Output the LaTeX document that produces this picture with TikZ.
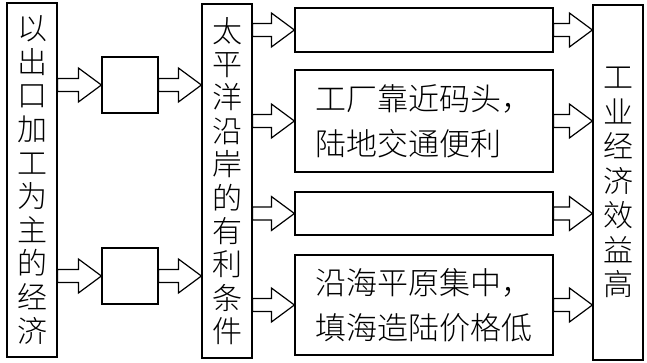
\documentclass[tikz,border=0pt]{standalone}
\usepackage{fontspec}
\newfontfamily\cjk{Noto Sans CJK SC}[UprightFont=* Light]
\usetikzlibrary{calc}
\tikzset{
  box/.style={draw, line width=1.2pt, inner sep=0pt},
  vtext/.style={align=center},
  blockarrow/.style={draw, line width=1.2pt, line join=miter,
    to path={let \p1=(\tikztostart), \p2=(\tikztotarget) in
      (\x1,\y1+6.5pt) -- (\x2-23pt,\y1+6.5pt) -- (\x2-23pt,\y1+17pt) -- (\x2,\y1)
      -- (\x2-23pt,\y1-17pt) -- (\x2-23pt,\y1-6.5pt) -- (\x1,\y1-6.5pt) -- cycle}}
}
\begin{document}
\begin{tikzpicture}[x=1pt,y=-1pt]
\useasboundingbox (0,0) rectangle (647,363);
\node[box, vtext, minimum width=50pt, minimum height=354pt, font=\cjk\fontsize{30}{33.6}\selectfont] (L) at (32,180) {以\\出\\口\\加\\工\\为\\主\\的\\经\\济};
\node[box, minimum width=56pt, minimum height=56pt] (S1) at (130,85) {};
\node[box, minimum width=56pt, minimum height=56pt] (S2) at (130,276) {};
\node[box, vtext, minimum width=50pt, minimum height=354pt, font=\cjk\fontsize{30}{33.4}\selectfont] (M) at (227,181) {太\\平\\洋\\沿\\岸\\的\\有\\利\\条\\件};
\node[box, minimum width=258pt, minimum height=44pt] (A) at (424,30) {};
\node[box, align=left, minimum width=258pt, minimum height=102pt, font=\cjk\fontsize{31}{45}\selectfont] (B) at (424,121) {工厂靠近码头，\\陆地交通便利};
\node[box, minimum width=258pt, minimum height=43pt] (C) at (424,213.5) {};
\node[box, align=left, minimum width=258pt, minimum height=100pt, font=\cjk\fontsize{31}{45}\selectfont] (D) at (424,305) {沿海平原集中，\\填海造陆价格低};
\node[box, vtext, minimum width=50pt, minimum height=355pt, font=\cjk\fontsize{30}{34.5}\selectfont] (R) at (618,182.5) {工\\业\\经\\济\\效\\益\\高};
\draw[blockarrow] (L.east |- S1.west) to (S1.west);
\draw[blockarrow] (L.east |- S2.west) to (S2.west);
\draw[blockarrow] (S1.east) to (M.west |- S1.east);
\draw[blockarrow] (S2.east) to (M.west |- S2.east);
\draw[blockarrow] (M.east |- A.west) to (A.west);
\draw[blockarrow] (M.east |- B.west) to (B.west);
\draw[blockarrow] (M.east |- C.west) to (C.west);
\draw[blockarrow] (M.east |- D.west) to (D.west);
\draw[blockarrow] (A.east) to (R.west |- A.east);
\draw[blockarrow] (B.east) to (R.west |- B.east);
\draw[blockarrow] (C.east) to (R.west |- C.east);
\draw[blockarrow] (D.east) to (R.west |- D.east);
\end{tikzpicture}
\end{document}
